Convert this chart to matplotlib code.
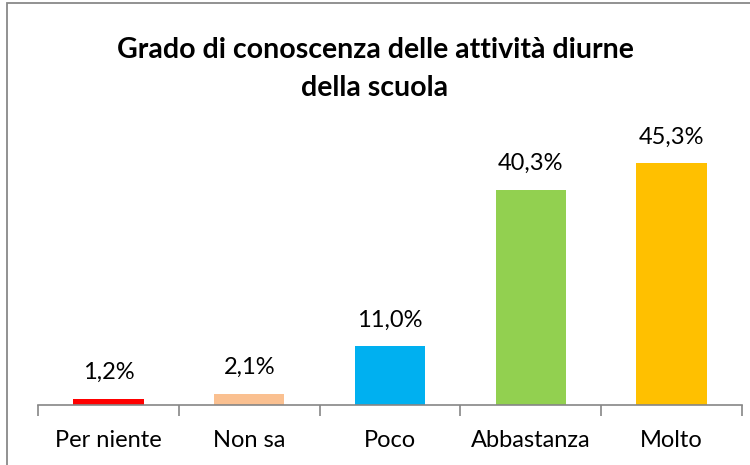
import matplotlib.pyplot as plt
from matplotlib.patches import Rectangle

categorie = ['Per niente', 'Non sa', 'Poco', 'Abbastanza', 'Molto']
percentuali = [1.2, 2.1, 11.0, 40.3, 45.3]
colori = ['#FF0000', '#FAC090', '#00B0F0', '#92D050', '#FFC000']

plt.rcParams['font.family'] = ['Lato', 'DejaVu Sans']

fig = plt.figure(figsize=(7.5, 4.65), dpi=100)
ax = fig.add_axes([38/750, 60/465, 704/750, 267/465])

x = range(len(categorie))
ax.bar(x, percentuali, width=0.5, color=colori)
for xi, v in zip(x, percentuali):
    ax.text(xi, v + 2.9, f'{v:.1f}%'.replace('.', ','), ha='center', va='bottom',
            fontsize=17, color='#000000')

ax.set_xlim(-0.5, len(categorie) - 0.5)
ax.set_ylim(0, 50)
ax.set_yticks([])
for s in ['top', 'right', 'left']:
    ax.spines[s].set_visible(False)
ax.spines['bottom'].set_color('#868686')
ax.spines['bottom'].set_linewidth(1.2)

ax.set_xticks([i - 0.5 for i in range(len(categorie) + 1)], minor=False)
ax.set_xticklabels([])
ax.tick_params(axis='x', which='major', length=8, color='#868686', width=1.2)
ax.set_xticks(list(x), minor=True)
ax.set_xticklabels(categorie, minor=True, fontsize=17)
ax.tick_params(axis='x', which='minor', length=0, pad=18)

fig.text(0.5, 1 - 50/465, 'Grado di conoscenza delle attività diurne',
         ha='center', va='center', fontsize=20.5, fontweight='bold')
fig.text(0.5, 1 - 88/465, 'della scuola',
         ha='center', va='center', fontsize=20.5, fontweight='bold')

fig.patches.append(Rectangle((7/750, -0.1), 1.2, 1 - 3/465 + 0.1, transform=fig.transFigure,
                             fill=False, edgecolor='#898989', linewidth=1.3))

plt.savefig('out.png', dpi=100)
